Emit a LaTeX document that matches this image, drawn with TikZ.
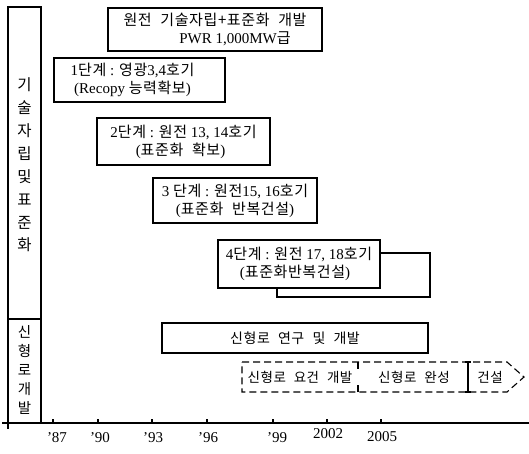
\documentclass[tikz,border=0pt]{standalone}
\usepackage{fontspec}
\setmainfont{Liberation Serif}
\newfontfamily\kr{Noto Sans CJK KR}[WordSpace=2.2, LetterSpace=4]
\newcommand\kk[1]{{\kr #1}}
\begin{document}
\begin{tikzpicture}[x=1pt,y=-1pt,
  every node/.style={inner sep=0pt},
  ln/.style={line width=1.1pt},
  boxn/.style={draw, line width=1.1pt, align=center, font=\fontsize{15}{18}\selectfont},
  lbl/.style={font=\kr\fontsize{13.5}{15}\selectfont},
  yr/.style={font=\fontsize{15}{16}\selectfont},
  dsh/.style={line width=1.1pt, dash pattern=on 7pt off 4pt}]
\useasboundingbox (0,0) rectangle (529,453);

% left column
\draw[ln] (8,7) rectangle (41,423);
\draw[ln] (8,319) -- (41,319);
\draw[ln] (8,423) -- (8,429);
\node[font=\kr\fontsize{15.5}{22.9}\selectfont, align=center] (colA) at (24.5,165) {기\\술\\자\\립\\및\\표\\준\\화};
\node[font=\kr\fontsize{14.5}{19}\selectfont, align=center] (colB) at (24.5,370) {신\\형\\로\\개\\발};

% axis
\coordinate (axL) at (2,423);
\coordinate (axR) at (529,423);
\draw[ln] (axL) -- (axR);
\foreach \x in {53,98,152,207,273,327,381} \draw[ln] (\x,419) -- (\x,424);
\node[yr] (y87) at (57,438) {'87};
\node[yr] (y90) at (100,438) {'90};
\node[yr] (y93) at (153,438) {'93};
\node[yr] (y96) at (208,438) {'96};
\node[yr] (y99) at (277,438) {'99};
\node[yr] (y02) at (328,434) {2002};
\node[yr] (y05) at (382,437) {2005};

% boxes
\node[boxn, minimum width=214pt, minimum height=43pt] (top) at (215,29.5)
  {\kk{원전 기술자립+표준화 개발}\\\hspace*{40pt}PWR 1,000MW\kk{급}};
\node[boxn, minimum width=171pt, minimum height=44pt] (b1) at (139.5,80)
  {1\kk{단계} : \kk{영광}3,4\kk{호기}\hspace*{14pt}\\(Recopy \kk{능력확보})\hspace*{14pt}};
\node[boxn, minimum width=173pt, minimum height=47pt] (b2) at (183.5,141.5)
  {2\kk{단계} : \kk{원전} 13, 14\kk{호기}\\(\kk{표준화 확보})\hspace*{6pt}};
\node[boxn, minimum width=164pt, minimum height=45pt] (b3) at (235,200.5)
  {3 \kk{단계} : \kk{원전}15, 16\kk{호기}\\(\kk{표준화 반복건설})};
\node[boxn, minimum width=162pt, minimum height=48pt] (b4) at (299,264)
  {4\kk{단계} : \kk{원전} 17, 18\kk{호기}\\(\kk{표준화반복건설})\hspace*{8pt}};
\coordinate (bk1) at (430,253);
\coordinate (bk2) at (430,297);
\coordinate (bk3) at (277,297);
\draw[ln] (b4.east |- bk1) -- (bk1) -- (bk2) -- (bk3) -- (bk3 |- b4.south);

% new reactor
\node[boxn, minimum width=266pt, minimum height=30pt, font=\kr\fontsize{14}{15}\selectfont] (rd) at (295,338) {신형로 연구 및 개발};

\coordinate (d1) at (242,362);
\coordinate (d2) at (507,362);
\coordinate (d3) at (524,377);
\coordinate (d4) at (507,392);
\coordinate (d5) at (242,392);
\draw[dsh] (d1) -- (d2) -- (d3) -- (d4) -- (d5) -- cycle;
\draw[ln] (358,362) -- (358,369);
\draw[ln] (358,392) -- (358,385);
\draw[ln] (468,362) -- (468,392);
\draw[ln] (465,362) -- (471,362);
\draw[ln] (465,392) -- (471,392);
\node[lbl] (n1) at (300,377) {신형로 요건 개발};
\node[lbl] (n2) at (414,377) {신형로 완성};
\node[lbl] (n3) at (490,377) {건설};
\end{tikzpicture}
\end{document}
